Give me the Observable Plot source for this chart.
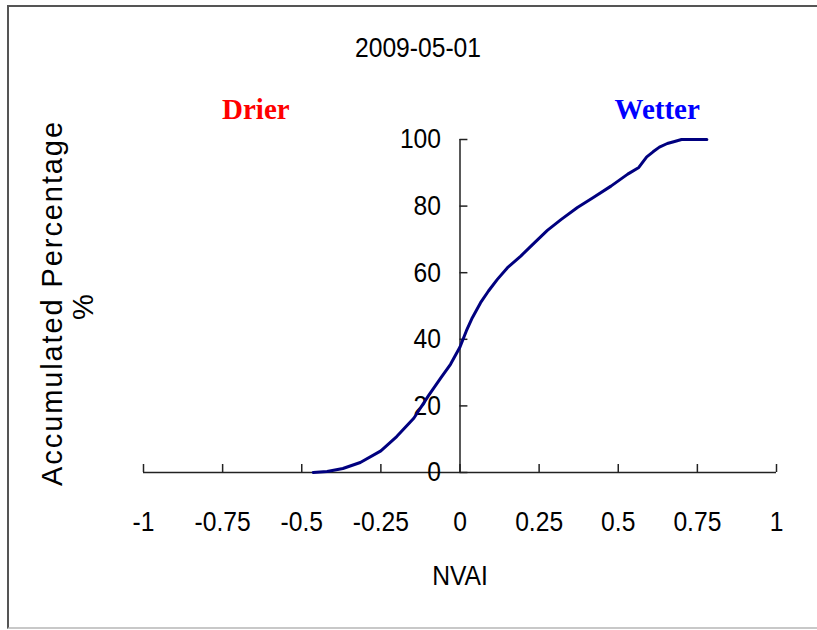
<!DOCTYPE html>
<html><head><meta charset="utf-8">
<script src="https://cdn.jsdelivr.net/npm/d3@7"></script>
<script src="https://cdn.jsdelivr.net/npm/@observablehq/plot@0.6"></script>
<style>
body{margin:0;background:#fff;}
#wrap{position:relative;width:817px;height:630px;overflow:hidden;}
#border{position:absolute;left:7px;top:5px;width:830px;height:620px;border-top:2px solid #555;border-left:2px solid #555;border-bottom:2px solid #c8c8c8;}
#chart{position:absolute;left:0;top:0;}
</style></head><body><div id="wrap"><div id="border"></div><div id="chart"></div></div>
<script>
const title = "2009-05-01";
const xLabel = "NVAI";
const yLabel = "Accumulated Percentage";
const yUnit = "%";
const xTicks = [-1, -0.75, -0.5, -0.25, 0, 0.25, 0.5, 0.75, 1];
const xTickLabels = ["-1", "-0.75", "-0.5", "-0.25", "0", "0.25", "0.5", "0.75", "1"];
const yTicks = [0, 20, 40, 60, 80, 100];
const nvai = [-0.464, -0.42, -0.37, -0.315, -0.25, -0.2, -0.146, -0.1, -0.06, -0.03, 0, 0.02, 0.039, 0.065, 0.09, 0.118, 0.15, 0.192, 0.23, 0.276, 0.32, 0.371, 0.42, 0.477, 0.53, 0.565, 0.578, 0.59, 0.61, 0.63, 0.655, 0.678, 0.7, 0.78];
const pct = [0, 0.3, 1.2, 3, 6.5, 10.8, 16.3, 23, 28.5, 32.5, 37.7, 42.5, 46.5, 51, 54.5, 58, 61.5, 65, 68.5, 72.7, 76, 79.6, 82.5, 86, 89.6, 91.6, 93.3, 94.8, 96.3, 97.7, 98.8, 99.4, 100, 100];
const annText = ["Drier", "Wetter"];
const annX = [-0.645, 0.623];

const sans = "'Liberation Sans', Arial, sans-serif";
const serif = "'Liberation Serif', 'Times New Roman', serif";
const axisColor = "#222";
const curve = nvai.map((x, i) => ({x, y: pct[i]}));

const chart = Plot.plot({
  width: 817, height: 630,
  marginLeft: 143, marginRight: 41, marginTop: 139, marginBottom: 158,
  x: {domain: [-1, 1], axis: null},
  y: {domain: [0, 100], axis: null},
  style: {background: "transparent", fontFamily: sans, color: "#000"},
  marks: [
    Plot.ruleY([0], {x1: -1, x2: 1, stroke: axisColor, strokeWidth: 1.5}),
    Plot.ruleX([0], {y1: 0, y2: 100, stroke: axisColor, strokeWidth: 1.5}),
    Plot.ruleX(xTicks, {x: d => d, y1: 0, y2: 2.4, stroke: axisColor, strokeWidth: 1.5}),
    Plot.ruleY(yTicks, {y: d => d, x1: 0, x2: 0.025, stroke: axisColor, strokeWidth: 1.5}),
    Plot.text(xTicks, {x: d => d, y: 0, dy: 50, text: (d, i) => xTickLabels[i], fontSize: 28, fill: "#000"}),
    Plot.text(yTicks, {x: 0, y: d => d, dx: -19, textAnchor: "end", text: d => String(d), fontSize: 28, fill: "#000"}),
    Plot.line(curve, {x: "x", y: "y", stroke: "#00007f", strokeWidth: 3}),
    Plot.text([title], {frameAnchor: "top", dx: -42, dy: -102, fontSize: 28, fill: "#000"}),
    Plot.text([xLabel], {frameAnchor: "bottom", dy: 112, fontSize: 28, fill: "#000"}),
    Plot.text([annText[0]], {x: annX[0], y: 100, dy: -30, fill: "#ff0000", fontFamily: serif, fontWeight: "bold", fontSize: 29}),
    Plot.text([annText[1]], {x: annX[1], y: 100, dy: -30, fill: "#0000ff", fontFamily: serif, fontWeight: "bold", fontSize: 29}),
    Plot.text([yLabel], {frameAnchor: "left", textAnchor: "middle", dx: -91, dy: -3, rotate: -90, fontSize: 29, fill: "#000"}),
    Plot.text([yUnit], {frameAnchor: "left", textAnchor: "middle", dx: -60, dy: 1, rotate: -90, fontSize: 29, fill: "#000"})
  ]
});
document.getElementById("chart").appendChild(chart);
const condensed = new Set([...xTickLabels, ...yTicks.map(String), title, xLabel]);
d3.select(chart).selectAll("text").each(function() {
  const t = this.textContent;
  if (t === yLabel) d3.select(this).attr("letter-spacing", 1.9);
  else if (condensed.has(t) && this.getComputedTextLength) {
    const w = this.getComputedTextLength();
    d3.select(this).attr("textLength", w * 0.88).attr("lengthAdjust", "spacingAndGlyphs");
  }
});
</script>
</body></html>
